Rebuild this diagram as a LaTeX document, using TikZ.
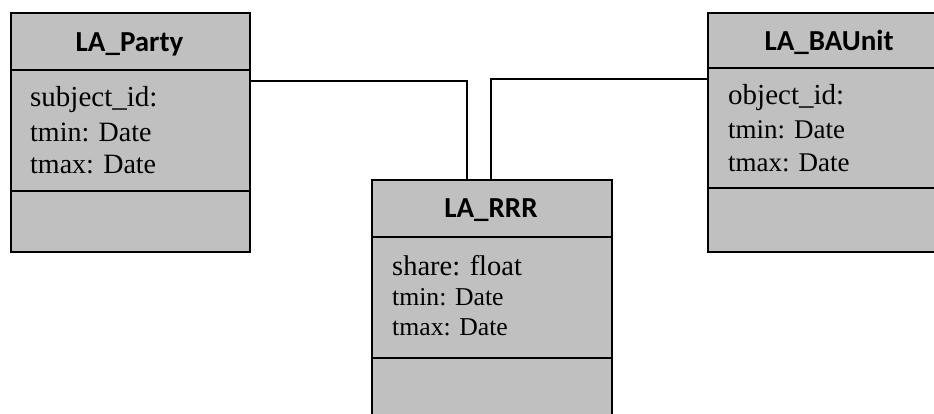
\documentclass[tikz,border=0pt]{standalone}
\usepackage{fontspec}
\setmainfont{Liberation Serif}
\newfontfamily\hdrfamily{Carlito}
\definecolor{boxgray}{RGB}{192,192,192}
\begin{document}
\begin{tikzpicture}[x=1pt,y=-1pt]
\tikzset{
  cls/.style={draw=black, line width=2pt, fill=boxgray, inner sep=0pt, anchor=north west},
  hdr/.style={anchor=base, inner sep=0pt, font=\hdrfamily\bfseries\fontsize{29}{29}\selectfont},
  attr/.style={anchor=base west, inner sep=0pt, font=\fontsize{28}{28}\selectfont},
  divider/.style={line width=2pt},
  link/.style={line width=1.5pt}
}
\useasboundingbox (0,0) rectangle (934,414);
\fill[white] (0,0) rectangle (934,414);

% LA_Party
\node[cls, minimum width=239pt, minimum height=239pt] (party) at (10,12) {};
\draw[divider] (10,70) -- (249,70);
\draw[divider] (10,191) -- (249,191);
\node[hdr] (partyname) at (129.5,52) {LA\_Party};
\node[attr, font=\fontsize{29}{29}\selectfont] (p1) at (30,107) {subject\_id:};
\node[attr] (p2) at (30,142) {tmin: Date};
\node[attr] (p3) at (30,174) {tmax: Date};

% LA_BAUnit
\node[cls, minimum width=244pt, minimum height=239pt] (baunit) at (707,12) {};
\draw[divider] (707,68) -- (951,68);
\draw[divider] (707,188) -- (951,188);
\node[hdr] (baname) at (829,51) {LA\_BAUnit};
\node[attr, font=\fontsize{29}{29}\selectfont] (b1) at (728,105) {object\_id:};
\node[attr, font=\fontsize{27}{27}\selectfont] (b2) at (728,139) {tmin: Date};
\node[attr, font=\fontsize{27}{27}\selectfont] (b3) at (728,172) {tmax: Date};

% LA_RRR
\node[cls, minimum width=240pt, minimum height=260pt] (rrr) at (371,179) {};
\draw[divider] (371,237) -- (611,237);
\draw[divider] (371,358) -- (611,358);
\node[hdr] (rrrname) at (491,218) {LA\_RRR};
\node[attr, font=\fontsize{28.5}{28.5}\selectfont] (r1) at (392,275) {share: float};
\node[attr, font=\fontsize{25.7}{25.7}\selectfont] (r2) at (392,305) {tmin: Date};
\node[attr, font=\fontsize{25.7}{25.7}\selectfont] (r3) at (392,335) {tmax: Date};

% connectors
\coordinate (pk) at (467,81);
\coordinate (bk) at (491,79);
\draw[link] (party.east |- pk) -- (pk) -- (rrr.north -| pk);
\draw[link] (baunit.west |- bk) -- (bk) -- (rrr.north -| bk);
\end{tikzpicture}
\end{document}
